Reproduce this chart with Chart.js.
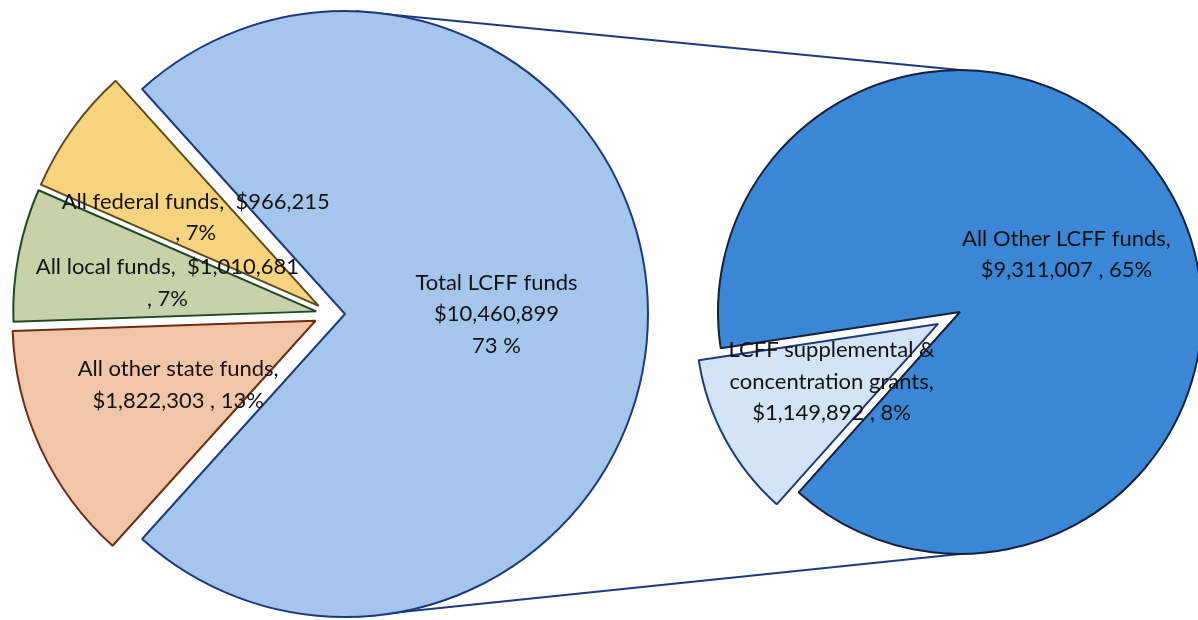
<!DOCTYPE html>
<html><head><meta charset="utf-8">
<script src="https://cdn.jsdelivr.net/npm/chart.js@4.4.1/dist/chart.umd.min.js"></script>
<style>
html,body{margin:0;padding:0;width:1198px;height:620px;overflow:hidden;background:#fff;}
#lines{position:absolute;left:0;top:0;z-index:0}
#left{position:absolute;left:0;top:0;z-index:1}
#right{position:absolute;left:680px;top:2px;z-index:2}
</style></head><body>
<canvas id="lines" width="1198" height="620"></canvas>
<canvas id="left" width="660" height="628"></canvas>
<canvas id="right" width="560" height="620"></canvas>
<script>
// ---- data ----
const leftCategories = ['Total LCFF funds', 'All other state funds', 'All local funds', 'All federal funds'];
const leftValues = [10460899, 1822303, 1010681, 966215];
const leftPercents = [73, 13, 7, 7];
const rightCategories = ['LCFF supplemental & concentration grants', 'All Other LCFF funds'];
const rightValues = [1149892, 9311007];
const rightPercents = [8, 65];

// ---- styling ----
const leftColors = ['#a5c6ec', '#f1c5a7', '#c7d2aa', '#f6d37f'];
const leftBorders = ['#1d3a7c', '#6e2c12', '#1f4a24', '#5b4a1c'];
const rightColors = ['#d5e3f6', '#3b87d5'];
const rightBorders = ['#1d3a7c', '#15203a'];
const leftExplode = [15, 16, 14, 14];
const rightExplode = [25, 0];
const LEFT_R = 303, RIGHT_R = 242;
const FONT = '22px Lato, Carlito, "Open Sans", sans-serif';
const LINE_H = 31.5;

const fmt = v => '$' + v.toLocaleString('en-US');
const leftLabels = [
  [leftCategories[0], fmt(leftValues[0]), leftPercents[0] + ' %'],
  [leftCategories[1] + ',', fmt(leftValues[1]) + ' , ' + leftPercents[1] + '%'],
  [leftCategories[2] + ',  ' + fmt(leftValues[2]), ', ' + leftPercents[2] + '%'],
  [leftCategories[3] + ',  ' + fmt(leftValues[3]), ', ' + leftPercents[3] + '%']
];
const smallWords = rightCategories[0].split(' ');
const rightLabels = [
  [smallWords.slice(0, 3).join(' '), smallWords.slice(3).join(' ') + ',', fmt(rightValues[0]) + ' , ' + rightPercents[0] + '%'],
  [rightCategories[1] + ',', fmt(rightValues[1]) + ' , ' + rightPercents[1] + '%']
];

// Draw exploded slices with the library's own arc elements
const explodePlugin = {
  id: 'explode',
  beforeDatasetDraw(chart, args, opts) {
    const ctx = chart.ctx;
    const meta = chart.getDatasetMeta(args.index);
    meta.data.forEach((arc, i) => {
      const mid = (arc.startAngle + arc.endAngle) / 2;
      const e = opts.amounts[i] || 0;
      ctx.save();
      ctx.translate(Math.cos(mid) * e, Math.sin(mid) * e);
      arc.draw(ctx);
      ctx.restore();
    });
    return false;
  },
  afterDatasetsDraw(chart, args, opts) {
    const ctx = chart.ctx;
    const meta = chart.getDatasetMeta(0);
    ctx.save();
    ctx.font = FONT;
    ctx.fillStyle = '#121212';
    ctx.textAlign = 'center';
    ctx.textBaseline = 'middle';
    meta.data.forEach((arc, i) => {
      const mid = (arc.startAngle + arc.endAngle) / 2;
      const d = (opts.amounts[i] || 0) + arc.outerRadius * 0.5;
      const cx = arc.x + Math.cos(mid) * d;
      const cy = arc.y + Math.sin(mid) * d;
      const lines = opts.labels[i];
      const y0 = cy - (lines.length - 1) * LINE_H / 2;
      lines.forEach((t, k) => ctx.fillText(t, cx, y0 + k * LINE_H));
    });
    ctx.restore();
  }
};

const leftDeg = leftValues[0] / leftValues.reduce((a, b) => a + b, 0) * 360;

function makePie(id, values, cats, colors, borders, radius, rotation, amounts, labels) {
  return new Chart(document.getElementById(id), {
    type: 'pie',
    data: { labels: cats, datasets: [{ data: values, backgroundColor: colors, borderColor: borders, borderWidth: 2 }] },
    options: {
      responsive: false, animation: false, devicePixelRatio: 1, events: [],
      radius: radius, rotation: rotation,
      layout: { padding: 0 },
      plugins: { legend: { display: false }, tooltip: { enabled: false }, explode: { amounts, labels } }
    },
    plugins: [explodePlugin]
  });
}

const leftChart = makePie('left', leftValues, leftCategories, leftColors, leftBorders, LEFT_R, 90 - leftDeg / 2, leftExplode, leftLabels);
const rightChart = makePie('right', rightValues, rightCategories, rightColors, rightBorders, RIGHT_R, 221.8, rightExplode, rightLabels);

// connector lines, from the arcs' geometry
(function () {
  const lc = document.getElementById('lines').getContext('2d');
  const la = leftChart.getDatasetMeta(0).data[0];
  const lmid = (la.startAngle + la.endAngle) / 2;
  const lx = la.x + Math.cos(lmid) * leftExplode[0];
  const ly = la.y + Math.sin(lmid) * leftExplode[0];
  const rc = document.getElementById('right');
  const ra = rightChart.getDatasetMeta(0).data[1];
  const rx = ra.x + rc.offsetLeft, ry = ra.y + rc.offsetTop;
  const a = 88 * Math.PI / 180;
  lc.strokeStyle = '#1d3a7c';
  lc.lineWidth = 2;
  lc.beginPath();
  lc.moveTo(lx + Math.cos(-a) * la.outerRadius, ly + Math.sin(-a) * la.outerRadius);
  lc.lineTo(rx, ry - ra.outerRadius);
  lc.moveTo(lx + Math.cos(a) * la.outerRadius, ly + Math.sin(a) * la.outerRadius);
  lc.lineTo(rx, ry + ra.outerRadius);
  lc.stroke();
})();
</script>
</body></html>
